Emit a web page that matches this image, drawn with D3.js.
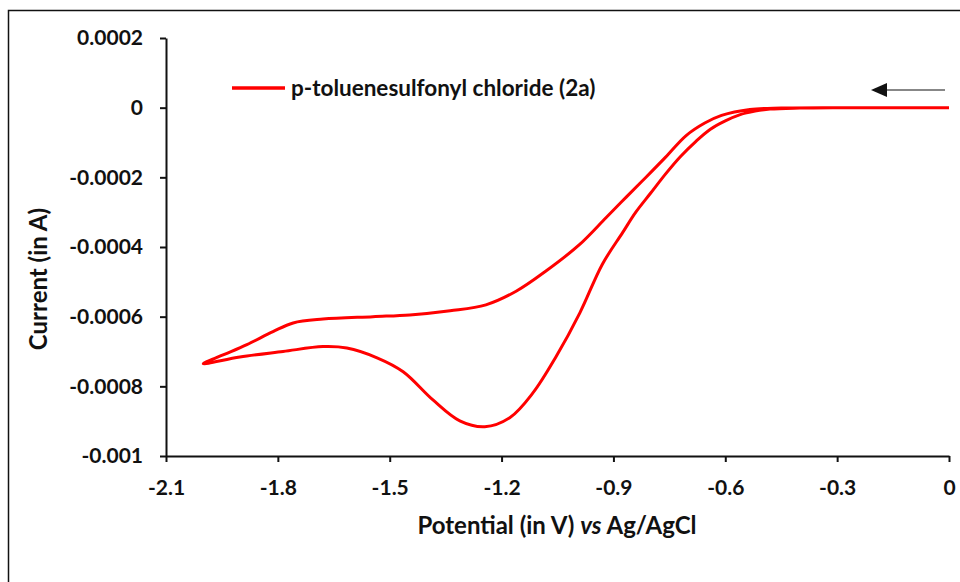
<!DOCTYPE html>
<html lang="en">
<head>
<meta charset="UTF-8">
<title>CV p-toluenesulfonyl chloride</title>
<script src="https://d3js.org/d3.v7.min.js"></script>
<style>
    body { margin: 0; background-color: #ffffff; }
    text { font-family: Lato, "Open Sans", sans-serif; font-weight: bold; fill: #111; }
</style>
</head>
<body>
<div id="my_dataviz"></div>

<script>

//data (forward scan 0 -> -2.0 V, then reverse scan back to 0)
var potential = [
    0, -0.1, -0.2, -0.3, -0.4, -0.48, -0.52, -0.56, -0.6, -0.64, -0.68, -0.72, -0.76, -0.8, -0.84, -0.875,
    -0.93, -0.99, -1.054, -1.116, -1.178, -1.245, -1.312, -1.384, -1.464, -1.534, -1.615, -1.679, -1.786, -1.902, -2.0,
    -1.947, -1.883, -1.813, -1.759, -1.679, -1.545, -1.446, -1.338, -1.242, -1.161, -1.081, -0.992, -0.92, -0.865,
    -0.812, -0.76, -0.705, -0.655, -0.61, -0.534, -0.45, -0.3, -0.15, 0
];
var current = [
    0, 0, 0, 0, -0.000001, -0.000004, -0.00001, -0.00002, -0.000038, -0.000062, -0.000098, -0.00014, -0.00019, -0.000245, -0.0003, -0.000358,
    -0.00045, -0.000589, -0.000715, -0.000819, -0.00089, -0.000916, -0.000899, -0.000839, -0.000758, -0.000718, -0.00069, -0.000686, -0.0007, -0.000716, -0.000735,
    -0.00071, -0.00068, -0.000643, -0.000618, -0.000607, -0.0006, -0.000595, -0.000583, -0.000566, -0.000527, -0.000469, -0.000394, -0.000316, -0.000256,
    -0.000199, -0.000142, -0.00008, -0.000044, -0.000022, -0.000005, -0.000001, 0, 0, 0
];
var xTicks = [-2.1, -1.8, -1.5, -1.2, -0.9, -0.6, -0.3, 0];
var xTickLabels = ["-2.1", "-1.8", "-1.5", "-1.2", "-0.9", "-0.6", "-0.3", "0"];
var yTicks = [0.0002, 0, -0.0002, -0.0004, -0.0006, -0.0008, -0.001];
var yTickLabels = ["0.0002", "0", "-0.0002", "-0.0004", "-0.0006", "-0.0008", "-0.001"];
var seriesName = "p-toluenesulfonyl chloride (2a)";

var cv = potential.map(function(v, i) { return {v: v, c: current[i]}; });

//dimensions and margins
var margin = {top: 38, right: 11, bottom: 126, left: 166},
    width = 960 - margin.left - margin.right,
    height = 582 - margin.top - margin.bottom;

var root = d3.select("#my_dataviz")
    .append("svg")
        .attr("width", 960)
        .attr("height", 582);

//frame around the picture
root.append("rect")
    .attr("x", 8.5)
    .attr("y", 10.5)
    .attr("width", 980)
    .attr("height", 620)
    .attr("fill", "none")
    .attr("stroke", "#111")
    .attr("stroke-width", 1.5);

var svg = root.append("g")
    .attr("transform", "translate(" + margin.left + "," + margin.top + ")");

//scales
var x = d3.scaleLinear()
    .domain([-2.1, 0])
    .range([0, width]);
var y = d3.scaleLinear()
    .domain([-0.001, 0.0002])
    .range([height, 0]);

//x axis
var xAxis = svg.append("g")
    .attr("transform", "translate(0," + height + ")")
    .call(d3.axisBottom(x)
        .tickValues(xTicks)
        .tickFormat(function(d, i) { return xTickLabels[i]; })
        .tickSize(6)
        .tickSizeOuter(0)
        .tickPadding(18));
xAxis.selectAll("text").style("font-size", "21px");

//y axis
var yAxis = svg.append("g")
    .call(d3.axisLeft(y)
        .tickValues(yTicks)
        .tickFormat(function(d, i) { return yTickLabels[i]; })
        .tickSize(6)
        .tickSizeOuter(0)
        .tickPadding(17));
yAxis.selectAll("text").style("font-size", "21px");

svg.selectAll(".domain, .tick line")
    .attr("stroke", "#111")
    .attr("stroke-width", 2);

//axis titles
var xTitle = svg.append("text")
    .attr("x", 391)
    .attr("y", height + 78)
    .style("text-anchor", "middle")
    .style("font-size", "24px");
xTitle.append("tspan").text("Potential (in V) ");
xTitle.append("tspan").style("font-style", "italic").text("vs");
xTitle.append("tspan").text(" Ag/AgCl");

svg.append("text")
    .attr("transform", "rotate(-90)")
    .attr("x", -241)
    .attr("y", -119)
    .style("text-anchor", "middle")
    .style("font-size", "24px")
    .text("Current (in A)");

//curve
var line = d3.line()
    .x(function(d) { return x(d.v); })
    .y(function(d) { return y(d.c); })
    .curve(d3.curveCatmullRom.alpha(0.5));

svg.append("path")
    .datum(cv)
    .attr("d", line)
    .attr("fill", "none")
    .attr("stroke", "#ff0000")
    .attr("stroke-width", 3)
    .attr("stroke-linejoin", "round");

//legend
svg.append("line")
    .attr("x1", 66).attr("x2", 119)
    .attr("y1", 50).attr("y2", 50)
    .attr("stroke", "#ff0000")
    .attr("stroke-width", 3.5);
svg.append("text")
    .attr("x", 125)
    .attr("y", 50)
    .attr("dy", "0.35em")
    .style("font-size", "22.5px")
    .text(seriesName);

//scan direction arrow
svg.append("line")
    .attr("x1", 718).attr("x2", 779)
    .attr("y1", 52).attr("y2", 52)
    .attr("stroke", "#111")
    .attr("stroke-width", 1.2);
svg.append("path")
    .attr("d", "M705,52L721,45L721,59Z")
    .attr("fill", "#111");

</script>
</body>
</html>
